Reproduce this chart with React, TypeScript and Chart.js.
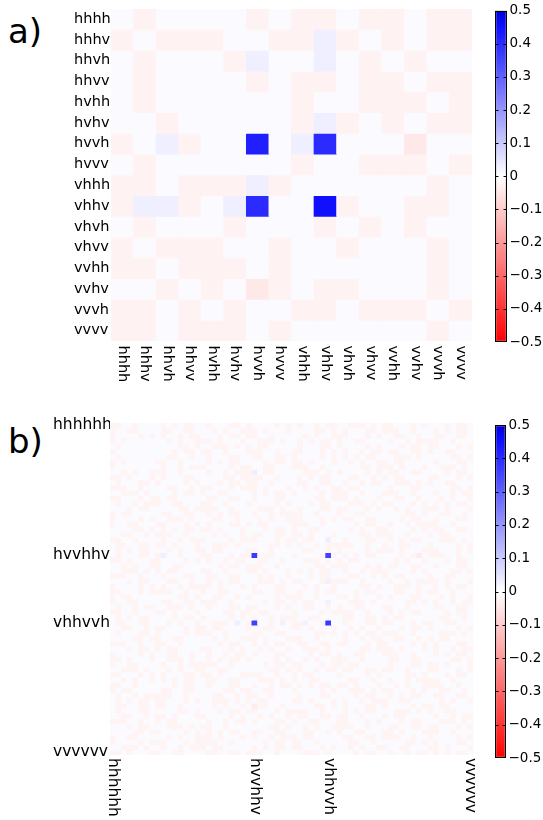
import React, { useEffect, useRef } from 'react';
import { Chart, registerables } from 'chart.js';

Chart.register(...registerables);

const FONT = '"DejaVu Sans", sans-serif';

// ---------------- Panel a: 16 x 16 ----------------
const basisA = ['hhhh', 'hhhv', 'hhvh', 'hhvv', 'hvhh', 'hvhv', 'hvvh', 'hvvv',
  'vhhh', 'vhhv', 'vhvh', 'vhvv', 'vvhh', 'vvhv', 'vvvh', 'vvvv'];

const valuesA: number[][] = [
  [0.008, -0.025, 0.008, 0.008, 0.008, 0.008, -0.025, 0.008, -0.025, -0.025, 0.008, -0.025, -0.025, 0.008, -0.025, -0.025],
  [-0.025, 0.008, -0.025, -0.025, -0.025, 0.008, 0.008, -0.025, -0.025, 0.03, -0.025, 0.008, -0.025, 0.008, -0.025, -0.025],
  [0.008, -0.025, 0.008, 0.008, 0.008, -0.025, 0.03, 0.008, 0.008, 0.03, 0.008, -0.025, 0.008, -0.025, 0.008, 0.008],
  [0.008, -0.025, 0.008, 0.008, 0.008, 0.008, -0.025, 0.008, -0.025, -0.025, 0.008, -0.025, -0.025, 0.008, -0.025, -0.025],
  [0.008, -0.025, 0.008, 0.008, 0.008, 0.008, 0.008, 0.008, -0.025, 0.008, 0.008, -0.025, -0.025, -0.025, 0.008, -0.025],
  [0.008, 0.008, -0.025, 0.008, 0.008, 0.008, 0.008, 0.008, -0.025, 0.03, -0.025, 0.008, -0.025, 0.008, -0.025, -0.025],
  [-0.025, 0.008, 0.03, -0.025, 0.008, 0.008, 0.42, 0.008, 0.03, 0.40, 0.008, 0.008, 0.008, -0.045, 0.008, 0.008],
  [0.008, -0.025, 0.008, 0.008, 0.008, 0.008, 0.008, 0.008, -0.025, 0.008, 0.008, -0.025, -0.025, -0.025, 0.008, -0.025],
  [-0.025, -0.025, 0.008, -0.025, -0.025, -0.025, 0.03, -0.025, 0.008, 0.008, 0.008, 0.008, 0.008, 0.008, -0.025, 0.008],
  [-0.025, 0.03, 0.03, -0.025, 0.008, 0.03, 0.40, 0.008, 0.008, 0.45, -0.025, 0.008, 0.008, -0.025, -0.025, 0.008],
  [0.008, -0.025, 0.008, 0.008, 0.008, -0.025, 0.008, 0.008, 0.008, -0.025, 0.008, -0.025, 0.008, -0.025, 0.008, 0.008],
  [-0.025, 0.008, -0.025, -0.025, -0.025, 0.008, 0.008, -0.025, 0.008, 0.008, -0.025, 0.008, 0.008, 0.008, -0.025, 0.008],
  [-0.025, -0.025, 0.008, -0.025, -0.025, -0.025, 0.008, -0.025, 0.008, 0.008, 0.008, 0.008, 0.008, 0.008, -0.025, 0.008],
  [0.008, 0.008, -0.025, 0.008, -0.025, 0.008, -0.045, -0.025, 0.008, -0.025, -0.025, 0.008, 0.008, 0.008, -0.025, 0.008],
  [-0.025, -0.025, 0.008, -0.025, 0.008, -0.025, 0.008, 0.008, -0.025, -0.025, 0.008, -0.025, -0.025, -0.025, 0.008, -0.025],
  [-0.025, -0.025, 0.008, -0.025, -0.025, -0.025, 0.008, -0.025, 0.008, 0.008, 0.008, 0.008, 0.008, 0.008, -0.025, 0.008],
];

// ---------------- Panel b: 64 x 64 ----------------
const tickIndexB = [0, 25, 38, 63];
const tickLabelsB = ['hhhhhh', 'hvvhhv', 'vhhvvh', 'vvvvvv'];

// faint background texture: '.' near-white, 'r' pale pink
const levelB: Record<string, number> = { '.': 0.008, 'r': -0.022 };
const blocksB: Record<string, string> = {
  A: 'rr..r...', B: '..rrr.r.', C: '.r...rr.', D: 'r..rr...', E: '...r.rr.',
  F: 'rr.r...r', G: '.rr..rr.', H: 'r....r.r', I: '..r.r..r', J: 'rrr..r..',
  K: '.r..r.rr', L: '....rr.r', M: 'r.rr....', N: '.r.r.rr.', O: 'rr...r.r',
  P: '..rr..r.', Q: 'r.r.....', S: '.r......', T: 'r.......',
};
const rowsB = [
  'ANCHKBOE', 'DGIFLCJN', 'HKEAIOPG', 'QIFBNDKA', 'SLBMCHEO', 'TEAJOKGD', 'SPCGHNBL', 'QANEFIMC',
  'TKHDJLFB', 'IAKDBHGE', 'FCLJNPMO', 'CHEAGKBD', 'JPOFIMCL', 'BEDNHAJK', 'OMGCLFPI', 'KDAHEBON',
  'ELJBCOIF', 'MGNKADLP', 'HBPIOGEC', 'DOCMJEKA', 'LNFEDIHG', 'PJIGFLAM', 'AKHOMCNB', 'GFBLKJDH',
  'NIMAPHFO', 'CAODHNEJ', 'FHKPBMIE', 'IDEJLOGC', 'BMAFNKHL', 'JCGIEPMD', 'EPNBOAKF', 'HKFCILBN',
  'OJDGKEPA', 'MLPHAFCI', 'DGJEMBLK', 'KBCOPDAG', 'AFLMHJNE', 'NEHKDGMP', 'GIBAJCOD', 'POMDFIEH',
  'CHAGLNJB', 'LDIFAKPM', 'JAENGOHC', 'EMOIBLFK', 'HPKCEDJN', 'FBNHIAGL', 'DKJEOMCF', 'BIDLKGAO',
  'OCFJMHLE', 'INGBDPKA', 'AECKNFIJ', 'MGLDHBOP', 'KJPACENG', 'NOBMFKDI', 'GAIPLCHM', 'CLEOJNBD',
  'PFHIGAMK', 'JMKCDOEB', 'EBALIJGO', 'LHNGPDFA', 'DIFKMGJH', 'HOJEAPLC', 'BKMNOIDF', 'FDGJBEKN',
];
// cells that stand out: [row, column, value]
const strongCellsB = [[25, 25, 0.37], [25, 38, 0.36], [38, 25, 0.36], [38, 38, 0.37]];
const faintBlueCellsB = [[25, 9, 0.03], [9, 25, 0.03], [38, 22, 0.03], [22, 38, 0.03],
  [38, 30, 0.025], [30, 38, 0.025], [38, 34, 0.025], [34, 38, 0.025]];
const pinkerCellsB = [[25, 54, -0.04], [54, 25, -0.04]];

const basisB = Array.from({ length: 64 }, (_, i) =>
  i.toString(2).padStart(6, '0').replace(/0/g, 'h').replace(/1/g, 'v'));

const valuesB: number[][] = rowsB.map((seq) =>
  seq.split('').map((b) => blocksB[b]).join('').split('').map((c) => levelB[c]));
[...strongCellsB, ...faintBlueCellsB, ...pinkerCellsB].forEach(([r, c, v]) => { valuesB[r][c] = v; });

// ---------------- colour scale ----------------
const colorbarTicks = [0.5, 0.4, 0.3, 0.2, 0.1, 0, -0.1, -0.2, -0.3, -0.4, -0.5];
const posStops: [number, number[]][] = [[0, [255, 255, 255]], [0.45, [16, 16, 255]], [0.5, [0, 0, 215]]];
const negStops: [number, number[]][] = [[0, [255, 255, 255]], [0.5, [255, 0, 0]]];

function colorFor(v: number): string {
  const stops = v >= 0 ? posStops : negStops;
  const a = Math.min(Math.abs(v), 0.5);
  for (let k = 1; k < stops.length; k++) {
    if (a <= stops[k][0] + 1e-9) {
      const [a0, c0] = stops[k - 1];
      const [a1, c1] = stops[k];
      const t = (a - a0) / (a1 - a0);
      const c = c0.map((x, i) => Math.round(x + (c1[i] - x) * t));
      return `rgb(${c[0]},${c[1]},${c[2]})`;
    }
  }
  const c = stops[stops.length - 1][1];
  return `rgb(${c[0]},${c[1]},${c[2]})`;
}

function fmtTick(v: number): string {
  if (Math.abs(v) < 1e-9) return '0';
  return v < 0 ? '\u2212' + Math.abs(v).toFixed(1) : v.toFixed(1);
}

// rotated (clockwise) x tick labels, placed through the x scale
const rotatedXLabels = {
  id: 'rotX',
  afterDraw(chart: any, _args: any, opts: any) {
    const { ctx, chartArea } = chart;
    const xs = chart.scales.x;
    ctx.save();
    ctx.font = `${opts.size}px ${FONT}`;
    ctx.fillStyle = '#000';
    ctx.textAlign = 'left';
    ctx.textBaseline = 'middle';
    (opts.items || []).forEach(([idx, text]: [number, string]) => {
      const x = xs.getPixelForValue(idx);
      ctx.save();
      ctx.translate(x, chartArea.bottom + opts.offset);
      ctx.rotate(Math.PI / 2);
      ctx.fillText(text, 0, 0);
      ctx.restore();
    });
    ctx.restore();
  },
};

function Heatmap(props: any) {
  const { values, categories, yTicks, width, height, padding, axisWidth, fontSize, xOffset, style } = props;
  const ref = useRef<HTMLCanvasElement>(null);
  useEffect(() => {
    const n = values.length;
    const labelOf: Record<number, string> = {};
    yTicks.forEach(([i, t]: [number, string]) => { labelOf[i] = t; });
    const datasets = values.map((row: number[], r: number) => ({
      data: row.map(() => [r, r + 1]),
      backgroundColor: row.map(colorFor),
      borderWidth: 0,
      barPercentage: 1,
      categoryPercentage: 1,
      grouped: false,
      inflateAmount: 0.4,
    }));
    const chart = new Chart(ref.current as HTMLCanvasElement, {
      type: 'bar',
      data: { labels: categories, datasets },
      options: {
        animation: false,
        responsive: false,
        devicePixelRatio: 1,
        layout: { padding },
        plugins: {
          legend: { display: false },
          tooltip: { enabled: false },
          rotX: { items: yTicks, size: fontSize, offset: xOffset },
        } as any,
        scales: {
          x: { type: 'category', display: false, offset: true },
          y: {
            type: 'linear',
            min: 0,
            max: n,
            reverse: true,
            grid: { display: false, drawTicks: false },
            border: { display: false },
            afterBuildTicks: (s: any) => { s.ticks = yTicks.map(([i]: [number]) => ({ value: i + 0.5 })); },
            afterFit: (s: any) => { s.width = axisWidth; },
            ticks: {
              autoSkip: false,
              padding: 0,
              crossAlign: 'far',
              color: '#000',
              font: { family: FONT, size: fontSize },
              callback: (v: any) => labelOf[Math.round(Number(v) - 0.5)] ?? '',
            },
          } as any,
        },
      },
      plugins: [rotatedXLabels],
    });
    return () => chart.destroy();
  }, []);
  return <canvas ref={ref} width={width} height={height} style={{ position: 'absolute', ...style }} />;
}

const colorbarDashes = {
  id: 'cbDashes',
  afterDatasetsDraw(chart: any) {
    const { ctx, chartArea } = chart;
    const ys = chart.scales.y;
    ctx.save();
    ctx.strokeStyle = '#000';
    ctx.lineWidth = 1;
    colorbarTicks.forEach((v) => {
      if (Math.abs(v) >= 0.5) return;
      const py = Math.round(ys.getPixelForValue(v)) + 0.5;
      ctx.beginPath();
      ctx.moveTo(chartArea.left, py);
      ctx.lineTo(chartArea.left + 3.5, py);
      ctx.moveTo(chartArea.right - 3.5, py);
      ctx.lineTo(chartArea.right, py);
      ctx.stroke();
    });
    ctx.restore();
  },
};

function Colorbar(props: any) {
  const { width, height, padding, axisWidth, style } = props;
  const ref = useRef<HTMLCanvasElement>(null);
  useEffect(() => {
    const lo = colorbarTicks[colorbarTicks.length - 1];
    const hi = colorbarTicks[0];
    const chart = new Chart(ref.current as HTMLCanvasElement, {
      type: 'bar',
      data: {
        labels: [''],
        datasets: [{
          data: [[lo, hi]],
          backgroundColor: (c: any) => {
            const ch = c.chart;
            const ys = ch.scales.y;
            if (!ch.chartArea || !ys) return '#fff';
            const g = ch.ctx.createLinearGradient(0, ys.getPixelForValue(lo), 0, ys.getPixelForValue(hi));
            for (let k = 0; k <= 40; k++) {
              const v = lo + (hi - lo) * (k / 40);
              g.addColorStop(k / 40, colorFor(v));
            }
            return g;
          },
          borderColor: '#000',
          borderWidth: 1.3,
          borderSkipped: false,
          barPercentage: 1,
          categoryPercentage: 1,
          inflateAmount: 0,
        } as any],
      },
      options: {
        animation: false,
        responsive: false,
        devicePixelRatio: 1,
        layout: { padding },
        plugins: { legend: { display: false }, tooltip: { enabled: false } },
        scales: {
          x: { display: false },
          y: {
            position: 'right',
            min: lo,
            max: hi,
            grid: { display: false, drawTicks: false },
            border: { display: false },
            afterBuildTicks: (s: any) => { s.ticks = colorbarTicks.map((v) => ({ value: v })); },
            afterFit: (s: any) => { s.width = axisWidth; },
            ticks: {
              autoSkip: false,
              padding: 2.5,
              color: '#000',
              font: { family: FONT, size: 13.5 },
              callback: (v: any) => fmtTick(Number(v)),
            },
          } as any,
        },
      },
      plugins: [colorbarDashes],
    });
    return () => chart.destroy();
  }, []);
  return <canvas ref={ref} width={width} height={height} style={{ position: 'absolute', ...style }} />;
}

const panelLabel = (text: string, top: number) => (
  <div style={{
    position: 'absolute', left: 8, top, fontFamily: FONT, fontSize: 34, lineHeight: 1, color: '#000',
  }}>{text}</div>
);

export default function App() {
  const yTicksA = basisA.map((t, i) => [i, t]);
  const yTicksB = tickIndexB.map((i, k) => [i, tickLabelsB[k]]);
  return (
    <div style={{ position: 'absolute', left: 0, top: 0, width: 543, height: 820, background: '#fff', overflow: 'hidden' }}>
      {panelLabel('a)', 14)}
      {panelLabel('b)', 424)}
      <Heatmap
        values={valuesA}
        categories={basisA}
        yTicks={yTicksA}
        width={480}
        height={400}
        padding={{ left: 74, top: 7, right: 8, bottom: 59 }}
        axisWidth={37}
        fontSize={14.5}
        xOffset={4.5}
        style={{ left: 0, top: 0 }}
      />
      <Colorbar
        width={63}
        height={360}
        padding={{ left: 15, top: 10, right: 0, bottom: 18 }}
        axisWidth={36}
        style={{ left: 480, top: 0 }}
      />
      <Heatmap
        values={valuesB}
        categories={basisB}
        yTicks={yTicksB}
        width={480}
        height={420}
        padding={{ left: 53, top: 22.7, right: 6.7, bottom: 65 }}
        axisWidth={57}
        fontSize={15.5}
        xOffset={3}
        style={{ left: 0, top: 400 }}
      />
      <Colorbar
        width={63}
        height={420}
        padding={{ left: 15, top: 25, right: 0, bottom: 62 }}
        axisWidth={37}
        style={{ left: 480, top: 400 }}
      />
    </div>
  );
}
